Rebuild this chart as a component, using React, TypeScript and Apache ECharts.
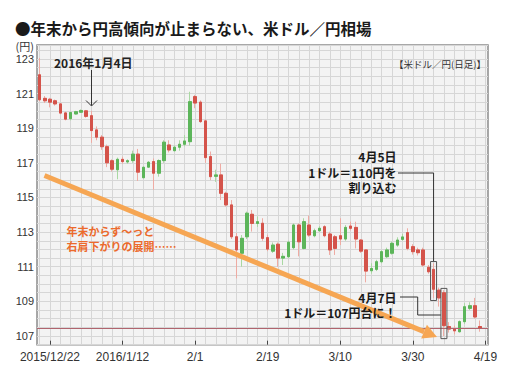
import React, { useEffect, useRef } from 'react';
import * as echarts from 'echarts';

const dates: string[] = [
  '2015/12/18', '2015/12/21', '2015/12/22', '2015/12/23', '2015/12/24', '2015/12/25', '2015/12/28', '2015/12/29', '2015/12/30', '2015/12/31',
  '2016/1/4', '2016/1/5', '2016/1/6', '2016/1/7', '2016/1/8', '2016/1/11', '2016/1/12', '2016/1/13', '2016/1/14', '2016/1/15',
  '2016/1/18', '2016/1/19', '2016/1/20', '2016/1/21', '2016/1/22', '2016/1/25', '2016/1/26', '2016/1/27', '2016/1/28', '2016/1/29',
  '2016/2/1', '2016/2/2', '2016/2/3', '2016/2/4', '2016/2/5', '2016/2/8', '2016/2/9', '2016/2/10', '2016/2/11', '2016/2/12',
  '2016/2/15', '2016/2/16', '2016/2/17', '2016/2/18', '2016/2/19', '2016/2/22', '2016/2/23', '2016/2/24', '2016/2/25', '2016/2/26',
  '2016/2/29', '2016/3/1', '2016/3/2', '2016/3/3', '2016/3/4', '2016/3/7', '2016/3/8', '2016/3/9', '2016/3/10', '2016/3/11',
  '2016/3/14', '2016/3/15', '2016/3/16', '2016/3/17', '2016/3/18', '2016/3/21', '2016/3/22', '2016/3/23', '2016/3/24', '2016/3/25',
  '2016/3/28', '2016/3/29', '2016/3/30', '2016/3/31', '2016/4/1', '2016/4/4', '2016/4/5', '2016/4/6', '2016/4/7', '2016/4/8',
  '2016/4/11', '2016/4/12', '2016/4/13', '2016/4/14', '2016/4/15', '2016/4/18', '2016/4/19',
];

const opens: number[] = [
  122.08, 120.72, 120.67, 120.58, 120.4, 119.88, 119.55, 119.82, 119.92, 120.0,
  119.72, 118.9, 118.48, 117.93, 117.12, 116.6, 117.2, 117.05, 117.13, 117.5,
  116.14, 116.75, 117.07, 116.4, 117.13, 118.03, 117.7, 117.9, 118.07, 118.22,
  120.82, 120.5, 119.42, 117.36, 116.22, 116.3, 115.24, 114.57, 112.73, 111.78,
  112.73, 114.03, 113.5, 113.51, 112.68, 111.9, 112.3, 111.5, 111.58, 112.1,
  113.41, 112.06, 113.41, 112.79, 113.08, 113.31, 112.89, 112.73, 112.79, 112.6,
  113.35, 113.27, 112.54, 111.97, 110.77, 110.85, 111.29, 111.58, 111.78, 112.25,
  112.58, 112.97, 112.16, 111.97, 111.97, 110.97, 110.85, 109.65, 109.5, 107.55,
  107.42, 107.25, 107.83, 108.6, 108.75, 107.55,
];

const closes: number[] = [
  120.64, 120.58, 120.5, 120.4, 119.87, 119.52, 119.9, 119.95, 120.02, 119.68,
  118.86, 118.48, 117.93, 117.0, 116.63, 117.2, 117.07, 117.12, 117.5, 116.46,
  116.74, 117.03, 116.4, 117.13, 118.19, 117.74, 117.9, 118.07, 118.26, 120.53,
  120.45, 119.38, 117.3, 116.2, 116.3, 115.24, 114.57, 112.73, 111.97, 112.64,
  114.09, 113.5, 113.6, 112.64, 112.02, 112.25, 111.5, 111.6, 112.41, 113.41,
  112.44, 113.6, 112.83, 113.08, 113.22, 112.79, 111.97, 112.06, 112.6, 113.27,
  113.22, 112.6, 111.9, 110.75, 110.9, 111.29, 111.87, 111.97, 112.35, 112.54,
  112.72, 112.06, 111.87, 111.81, 111.1, 110.71, 109.7, 109.2, 107.6, 107.4,
  107.3, 107.83, 108.69, 108.75, 108.1, 107.45,
];

const lows: number[] = [
  120.55, 120.45, 120.2, 120.3, 119.8, 119.45, 119.45, 119.78, 119.88, 119.6,
  118.15, 118.3, 117.75, 116.75, 116.5, 116.05, 116.95, 116.95, 117.0, 115.95,
  116.1, 116.7, 115.45, 116.2, 117.0, 117.6, 117.65, 117.7, 117.95, 118.0,
  120.15, 119.3, 117.0, 116.0, 115.9, 114.85, 114.47, 112.6, 110.33, 111.0,
  112.6, 113.03, 113.3, 112.5, 111.9, 111.8, 111.0, 111.1, 111.5, 112.0,
  111.6, 112.0, 112.73, 112.7, 113.0, 112.7, 111.68, 111.68, 112.25, 112.5,
  113.1, 112.06, 111.8, 110.1, 110.6, 110.75, 111.2, 111.5, 111.7, 112.15,
  112.5, 111.95, 111.7, 111.65, 111.0, 110.6, 109.2, 108.7, 107.0, 107.2,
  107.1, 107.2, 107.7, 108.5, 108.0, 107.25,
];

const highs: number[] = [
  123.05, 120.85, 120.75, 120.65, 120.45, 119.95, 119.95, 120.0, 120.08, 120.05,
  120.0, 119.1, 118.6, 118.05, 117.2, 117.3, 117.35, 117.2, 117.7, 117.8,
  116.8, 117.1, 117.25, 117.2, 118.3, 118.3, 118.0, 118.3, 118.6, 121.1,
  120.92, 120.6, 119.5, 117.65, 116.6, 116.95, 115.33, 114.85, 112.95, 112.83,
  114.18, 114.28, 113.9, 113.8, 112.85, 112.4, 112.4, 111.8, 112.5, 113.5,
  113.5, 113.8, 113.95, 113.2, 113.35, 113.4, 113.02, 112.83, 113.8, 113.4,
  113.6, 113.6, 112.6, 112.0, 111.2, 111.4, 111.95, 112.1, 112.45, 112.7,
  112.9, 113.22, 112.3, 112.1, 112.1, 111.1, 111.2, 109.8, 109.65, 107.8,
  107.6, 107.9, 108.9, 108.95, 109.2, 107.9,
];

const tickDates: string[] = ['2015/12/22', '2016/1/12', '2016/2/1', '2016/2/19', '2016/3/10', '2016/3/30', '2016/4/19'];
const tickLabels: string[] = ['2015/12/22', '2016/1/12', '2/1', '2/19', '3/10', '3/30', '4/19'];
const refLevel = 107.45;
const yMin = 106.5;
const yMax = 123.8;
const yStep = 0.5;

const UP = '#5cb55a';
const DOWN = '#d4534a';
const UP_WICK = '#a9d8a2';
const DOWN_WICK = '#eeaba3';
const ORANGE = '#f6a653';
const JP = '"Noto Sans CJK JP", sans-serif';

export default function App() {
  const ref = useRef<HTMLDivElement>(null);
  useEffect(() => {
    document.body.style.margin = '0';
    const chart = echarts.init(ref.current!, null, { renderer: 'svg' });
    const full = dates.map((_, i) => (i < opens.length ? [opens[i], closes[i], lows[i], highs[i]] : '-'));
    const bodies = dates.map((_, i) =>
      i < opens.length ? [opens[i], closes[i], Math.min(opens[i], closes[i]), Math.max(opens[i], closes[i])] : '-'
    );
    const tickIdx = tickDates.map((d) => dates.indexOf(d));
    const isTick = (i: number) => tickIdx.indexOf(i) >= 0;

    chart.setOption({
      animation: false,
      backgroundColor: '#ffffff',
      grid: {
        left: 37, right: 17, top: 45, bottom: 34.3, show: true,
        backgroundColor: '#f3f3f3', borderColor: '#8c8c8c', borderWidth: 1.5,
      },
      xAxis: {
        type: 'category', data: dates, boundaryGap: true,
        axisLine: { show: false },
        axisTick: { show: true, inside: true, length: 4, alignWithLabel: true, interval: (i: number) => isTick(i), lineStyle: { color: '#444', width: 1 } },
        axisLabel: {
          interval: (i: number) => isTick(i),
          formatter: (_v: string, i: number) => { const k = tickIdx.indexOf(i); return k >= 0 ? tickLabels[k] : ''; },
          color: '#333', fontSize: 12, fontFamily: '"Liberation Sans", Arial, sans-serif', margin: 6,
        },
        splitLine: { show: true, interval: (i: number) => i % 2 === 0, alignWithLabel: true, lineStyle: { color: '#d6d6d6', width: 1 } },
      },
      yAxis: {
        type: 'value', min: yMin, max: yMax, interval: yStep,
        axisLine: { show: false }, axisTick: { show: false },
        axisLabel: {
          formatter: (v: number) => { const r = Math.round(v); return Math.abs(v - r) < 1e-6 && r % 2 === 1 ? String(r) : ''; },
          color: '#333', fontSize: 11, fontFamily: '"Liberation Sans", Arial, sans-serif', margin: 3,
        },
        splitLine: { show: true, lineStyle: { color: '#d6d6d6', width: 1 } },
      },
      series: [
        {
          type: 'candlestick', name: 'wick', data: full, barWidth: 3, silent: true,
          itemStyle: { color: UP_WICK, color0: DOWN_WICK, borderColor: UP_WICK, borderColor0: DOWN_WICK, borderWidth: 1 },
        },
        {
          type: 'candlestick', name: 'body', data: bodies, barWidth: 3, silent: true,
          itemStyle: { color: UP, color0: DOWN, borderColor: UP, borderColor0: DOWN, borderWidth: 1 },
          markLine: {
            silent: true, symbol: ['none', 'none'], label: { show: false },
            lineStyle: { color: '#b0646e', width: 1, type: 'solid' },
            data: [{ yAxis: refLevel }],
          },
        },
      ],
    });

    const px = (i: number, v: number) => chart.convertToPixel({ gridIndex: 0 }, [i, v]) as number[];
    const i5 = dates.indexOf('2016/4/5');
    const i7 = dates.indexOf('2016/4/7');
    const b1t = px(i5, highs[i5] + 0.1);
    const b1b = px(i5, lows[i5] - 0.15);
    const b2t = px(i7, highs[i7] + 0.1);
    const b2b = px(i7, lows[i7] - 0.15);

    // orange trend arrow
    const s = [44.5, 175.5];
    const tip = [437, 337];
    const dx = tip[0] - s[0], dy = tip[1] - s[1];
    const len = Math.sqrt(dx * dx + dy * dy);
    const ux = dx / len, uy = dy / len;
    const nx = -uy, ny = ux;
    const hl = 14, hw = 7.5;
    const base = [tip[0] - hl * ux, tip[1] - hl * uy];

    const txt = (text: string, x: number, y: number, size: number, opts: any = {}) => ({
      type: 'text', x, y, silent: true, z: 100,
      style: {
        text, fontSize: size, fontFamily: JP, fontWeight: opts.weight || 'bold',
        fill: opts.fill || '#1a1a1a', textAlign: opts.align || 'left', textVerticalAlign: 'middle',
        lineHeight: opts.lineHeight || undefined,
      },
    });
    const dark = { stroke: '#333', lineWidth: 1, fill: 'none' };

    chart.setOption({
      graphic: [
        txt('●年末から円高傾向が止まらない、米ドル／円相場', 15, 28, 15.5, { fill: '#1a1a1a' }),
        txt('(円)', 34, 46, 11, { weight: 'normal', align: 'right', fill: '#333' }),
        txt('【米ドル／円(日足)】', 486, 64, 9.5, { weight: 'normal', align: 'right', fill: '#333' }),
        txt('2016年1月4日', 54, 62.5, 12, { fill: '#222' }),
        { type: 'line', silent: true, z: 100, shape: { x1: 91.5, y1: 70, x2: 91.5, y2: 105.5 }, style: dark },
        { type: 'polyline', silent: true, z: 100, shape: { points: [[86, 100.5], [91.5, 106], [97, 100.5]] }, style: dark },
        { type: 'line', silent: true, z: 90, shape: { x1: s[0], y1: s[1], x2: base[0], y2: base[1] }, style: { stroke: ORANGE, lineWidth: 5 } },
        {
          type: 'polygon', silent: true, z: 90,
          shape: { points: [[tip[0], tip[1]], [base[0] + hw * nx, base[1] + hw * ny], [base[0] - hw * nx, base[1] - hw * ny]] },
          style: { fill: ORANGE },
        },
        txt('年末からず〜っと\n右肩下がりの展開……', 66.5, 238.5, 11, { fill: '#ec6a2c', lineHeight: 14.5 }),
        txt('4月5日\n1ドル＝110円を\n割り込む', 396.5, 172, 12, { align: 'right', lineHeight: 15.75 }),
        { type: 'polyline', silent: true, z: 100, shape: { points: [[398, 173], [b1t[0], 173], [b1t[0], b1t[1]]] }, style: dark },
        { type: 'rect', silent: true, z: 100, shape: { x: b1t[0] - 3, y: b1t[1], width: 6, height: b1b[1] - b1t[1] }, style: { stroke: '#555', lineWidth: 1, fill: 'none' } },
        txt('4月7日\n1ドル＝107円台に！', 396.5, 304.75, 12, { align: 'right', lineHeight: 15.5 }),
        { type: 'polyline', silent: true, z: 100, shape: { points: [[400, 297], [417.7, 297], [417.7, 315], [b2t[0] - 3, 315]] }, style: dark },
        { type: 'rect', silent: true, z: 100, shape: { x: b2t[0] - 3, y: b2t[1], width: 6, height: b2b[1] - b2t[1] }, style: { stroke: '#555', lineWidth: 1, fill: 'none' } },
      ],
    });

    return () => chart.dispose();
  }, []);
  return <div ref={ref} style={{ position: 'absolute', left: 0, top: 0, width: 505, height: 379 }} />;
}
